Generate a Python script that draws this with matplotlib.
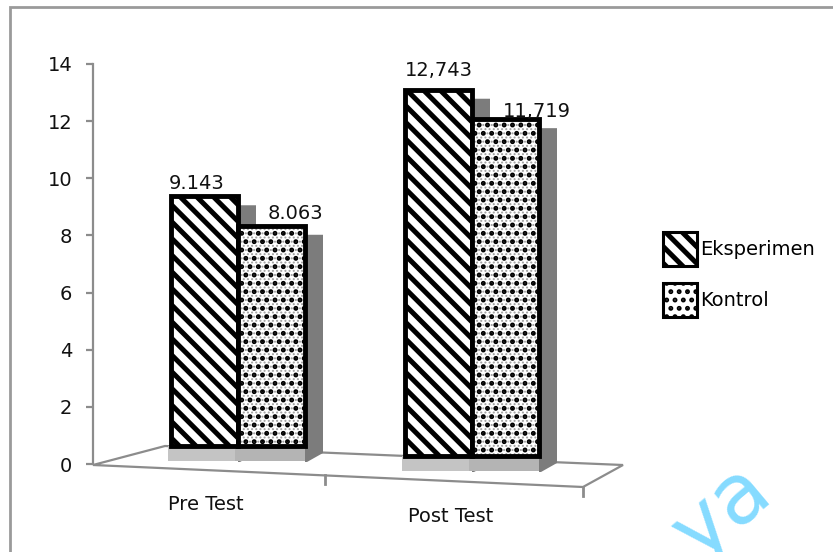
import matplotlib
matplotlib.use("Agg")
import matplotlib as mpl
import matplotlib.pyplot as plt
from matplotlib.patches import Rectangle, Polygon, Patch

# ---- data -------------------------------------------------------------
categories = ["Pre Test", "Post Test"]
series_names = ["Eksperimen", "Kontrol"]
eksperimen = [9.143, 12.743]
kontrol = [8.063, 11.719]
labels_eksperimen = ["9.143", "12,743"]
labels_kontrol = ["8.063", "11,719"]
y_ticks = [0, 2, 4, 6, 8, 10, 12, 14]

# ---- layout / style ---------------------------------------------------
W, H, DPI = 833, 552, 100
X0_PX, GROUP_PX = 238, 234          # centre of first group, spacing of groups (px)
Y0_PX, UNIT_PX = 464, 400 / 14      # pixel row of value 0, pixels per unit
AXIS_X_PX = 93
BAR_W_PX = 67
GROUP_LIFT_PX = [18, 8]             # perspective lift of each group's base
GROUP_SCALE = [0.956, 1.006]        # perspective scale of each group
GRAY = "#8c8c8c"
HATCH_EKS, HATCH_KON, HATCH_KON_FINE = "\\\\", "..", "...."
LW_EKS, LW_KON, LW_KON_FINE = 3.6, 2.3, 0.9

# label offsets in pixels (dx, dy) relative to bar centre / top
LBL_OFF_EKS = [(-8, 7), (0, 14)]
LBL_OFF_KON = [(24, 7), (31, 2)]
CAT_OFF = [(-32, -41), (-21, -53)]

plt.rcParams["font.family"] = ["DejaVu Sans"]

fig = plt.figure(figsize=(W / DPI, H / DPI), dpi=DPI)
ax = fig.add_axes([0, 0, 1, 1])
ax.set_xlim(-X0_PX / GROUP_PX, (W - X0_PX) / GROUP_PX)
ax.set_ylim((Y0_PX - H) / UNIT_PX, Y0_PX / UNIT_PX)


def dx(p):
    return p / GROUP_PX


def dy(p):
    return p / UNIT_PX


def px(xp, yp):
    """screen pixel (from top-left) -> data coordinates"""
    return ((xp - X0_PX) / GROUP_PX, (Y0_PX - yp) / UNIT_PX)


def set_hatch_lw(artist, lw):
    if hasattr(artist, "set_hatch_linewidth"):
        artist.set_hatch_linewidth(lw)


# ---- outer chart frame ------------------------------------------------
fig.add_artist(Rectangle((10 / W, -0.05), 1.2, 1 - 7 / H + 0.05,
                         transform=fig.transFigure, fill=False,
                         edgecolor="#9a9a9a", linewidth=2))

# ---- floor ------------------------------------------------------------
floor = Polygon([px(93, 465), px(583, 487), px(623, 465), px(165, 446)],
                closed=True, facecolor="white", edgecolor=GRAY,
                linewidth=1.6, zorder=1)
ax.add_patch(floor)
for fx in (325, 583):
    fy = 465 + (fx - 93) * 22 / 490
    ax.plot(*zip(px(fx, fy), px(fx, fy + 9)), color=GRAY, lw=2, zorder=1)

# ---- bars -------------------------------------------------------------
bw = dx(BAR_W_PX)
bases = [dy(l) for l in GROUP_LIFT_PX]


def draw_depth(xc, top, base, face):
    left, right = xc - bw / 2, xc + bw / 2
    # lower band of the column
    ax.add_patch(Rectangle((left - dx(3), base - dy(15)), bw + dx(3), dy(15),
                           facecolor=face, edgecolor="none", zorder=2))
    # right side of the column
    ax.add_patch(Polygon([(right, top - dy(9)), (right + dx(18), top - dy(9)),
                          (right + dx(18), base - dy(7)),
                          (right + dx(2), base - dy(16)),
                          (right, base - dy(16))],
                         closed=True, facecolor="#7c7c7c", edgecolor="none",
                         zorder=2))


xs_eks = [i - bw / 2 for i in range(len(categories))]
xs_kon = [i + bw / 2 for i in range(len(categories))]
h_eks = [v * s for v, s in zip(eksperimen, GROUP_SCALE)]
h_kon = [v * s for v, s in zip(kontrol, GROUP_SCALE)]

for i in range(len(categories)):
    draw_depth(xs_eks[i], bases[i] + h_eks[i], bases[i], "#c4c4c4")
    draw_depth(xs_kon[i], bases[i] + h_kon[i], bases[i], "#b4b4b4")

with mpl.rc_context({"hatch.linewidth": LW_EKS}):
    bars_eks = ax.bar(xs_eks, h_eks, bw, bottom=bases, color="white",
                      edgecolor="black", linewidth=3.5, hatch=HATCH_EKS,
                      zorder=3)
for b in bars_eks:
    set_hatch_lw(b, LW_EKS)

# fine grey speckle underneath the black dot pattern
with mpl.rc_context({"hatch.linewidth": LW_KON_FINE}):
    bars_kon_bg = ax.bar(xs_kon, h_kon, bw, bottom=bases, color="white",
                         edgecolor="#a0a0a0", linewidth=0,
                         hatch=HATCH_KON_FINE, zorder=3)
for b in bars_kon_bg:
    set_hatch_lw(b, LW_KON_FINE)
with mpl.rc_context({"hatch.linewidth": LW_KON}):
    bars_kon = ax.bar(xs_kon, h_kon, bw, bottom=bases, color="none",
                      edgecolor="black", linewidth=3.5, hatch=HATCH_KON,
                      zorder=3.1)
for b in bars_kon:
    set_hatch_lw(b, LW_KON)

# value labels
for i in range(len(categories)):
    for xs, hs, txt, off in ((xs_eks, h_eks, labels_eksperimen, LBL_OFF_EKS),
                             (xs_kon, h_kon, labels_kontrol, LBL_OFF_KON)):
        ax.annotate(txt[i], (xs[i], bases[i] + hs[i]), xytext=off[i],
                    textcoords="offset pixels", ha="center", va="baseline",
                    fontsize=14, color="#111111", zorder=5)

# category labels
for i, cat in enumerate(categories):
    ax.annotate(cat, (i, 0), xytext=CAT_OFF[i], textcoords="offset pixels",
                ha="center", va="center", fontsize=14, color="#111111")

# ---- value axis -------------------------------------------------------
for side in ("top", "right", "bottom"):
    ax.spines[side].set_visible(False)
ax.spines["left"].set_position(("data", dx(AXIS_X_PX - X0_PX)))
ax.spines["left"].set_bounds(0, 14)
ax.spines["left"].set_color(GRAY)
ax.spines["left"].set_linewidth(1.6)
ax.spines["left"].set_zorder(1)
ax.set_yticks(y_ticks)
ax.set_xticks([])
ax.tick_params(axis="y", direction="out", length=5, width=1.6, color=GRAY,
               labelsize=14, pad=10, labelcolor="#111111")
ax.patch.set_visible(False)

# ---- legend -----------------------------------------------------------
h1 = Patch(facecolor="white", edgecolor="black", linewidth=2.2,
           hatch=HATCH_EKS)
h2 = Patch(facecolor="white", edgecolor="black", linewidth=2.2,
           hatch=HATCH_KON)
leg = ax.legend([h1, h2], series_names, loc="upper left",
                bbox_to_anchor=(663 / W, 1 - 232 / H),
                bbox_transform=fig.transFigure, frameon=False, fontsize=14,
                handlelength=1.75, handleheight=2.3, handletextpad=0.15,
                labelspacing=0.9, borderpad=0, borderaxespad=0)
for p, lw in zip(leg.get_patches(), (LW_EKS, LW_KON)):
    set_hatch_lw(p, lw)

# ---- watermark --------------------------------------------------------
fig.text(722 / W, 1 - 512 / H, "ya", rotation=40, fontsize=60,
         color="#7fd9ff", ha="center", va="center", alpha=0.95)

fig.savefig("out.png", dpi=DPI)
